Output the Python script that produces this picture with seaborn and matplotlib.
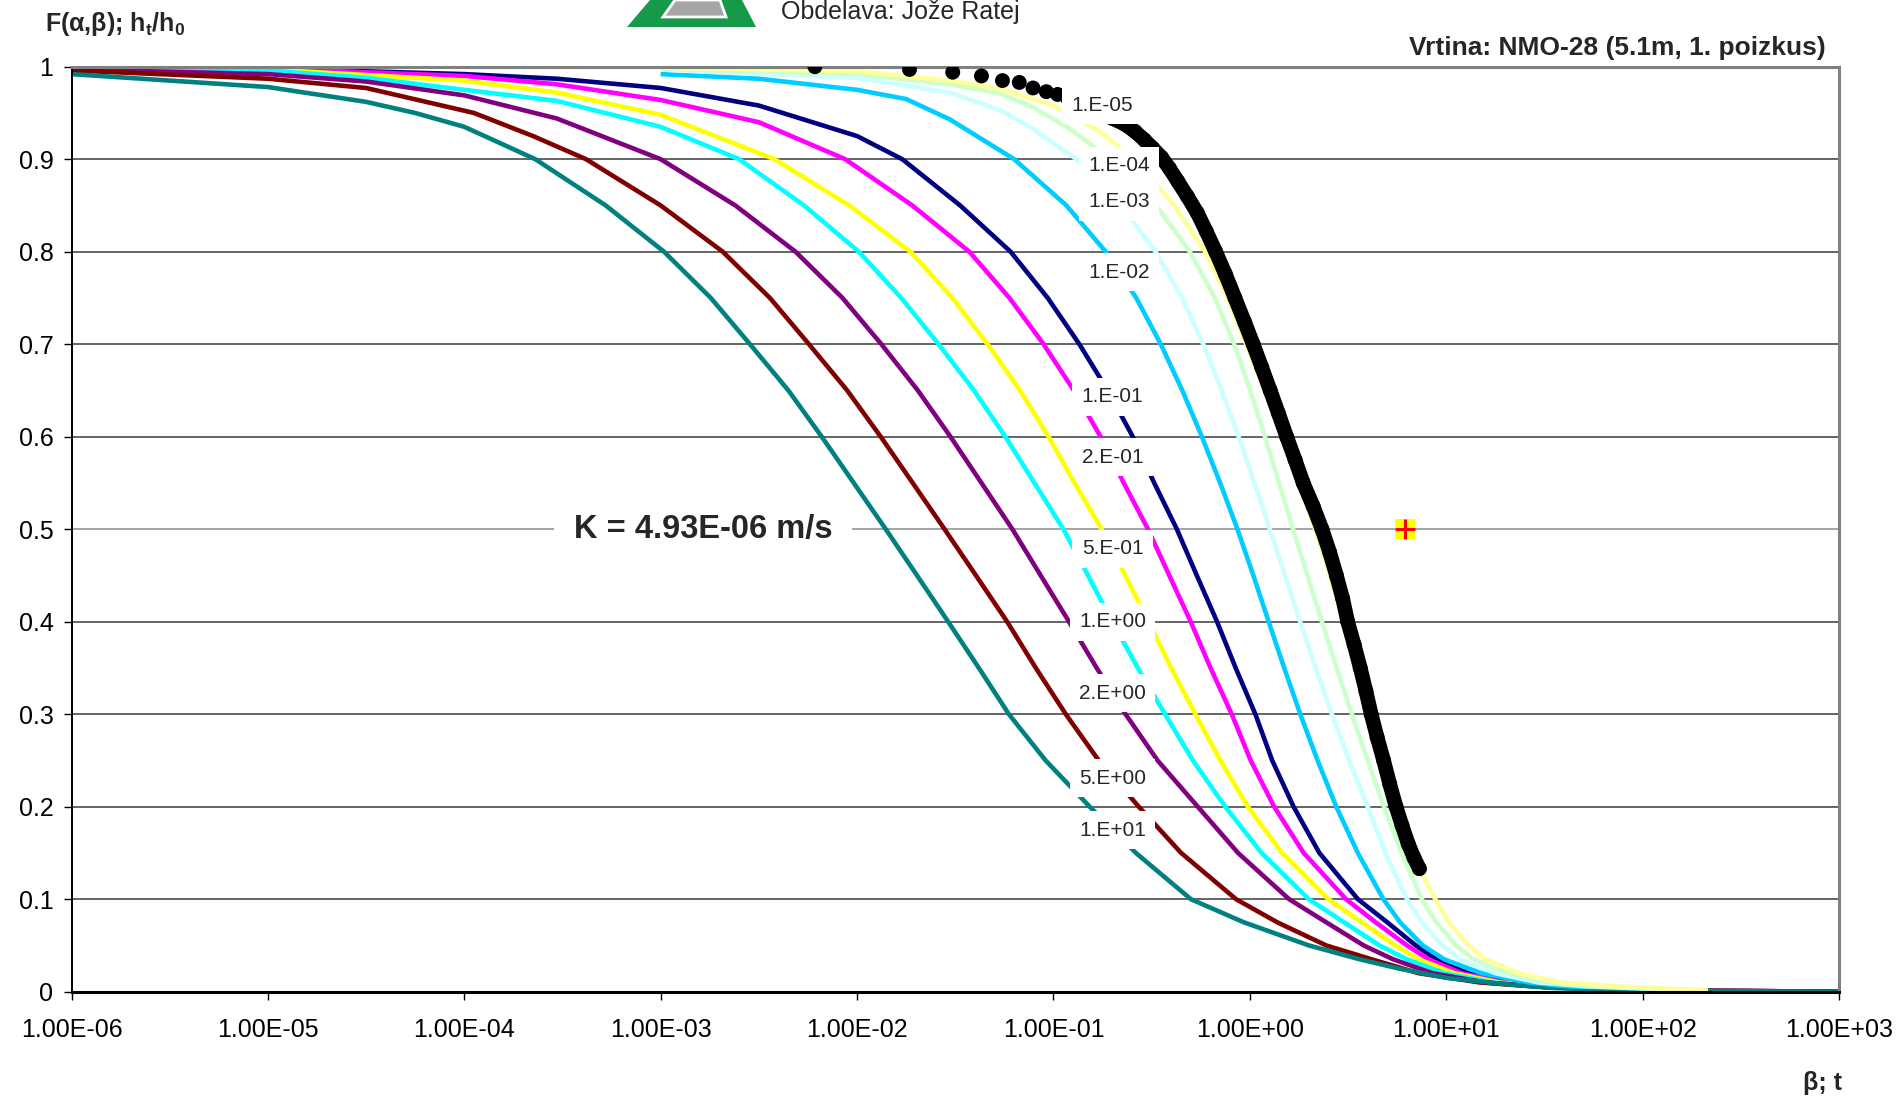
import matplotlib
matplotlib.use("Agg")
import numpy as np
import pandas as pd
import matplotlib.pyplot as plt
from matplotlib.patches import Polygon
import seaborn as sns

sns.set_theme(style="white")
plt.rcParams['font.family'] = ['Liberation Sans', 'DejaVu Sans']
plt.rcParams['mathtext.fontset'] = 'custom'
plt.rcParams['mathtext.rm'] = 'Liberation Sans'
plt.rcParams['mathtext.bf'] = 'Liberation Sans:bold'

# type curves F(alpha, beta) (beta, F)
X_1E01 = [1e-6, 1e-5, 3.16e-5, 5.62e-5, 1e-4, 2.30e-4, 5.25e-4, 1.04e-3, 1.80e-3, 2.85e-3, 4.47e-3, 6.61e-3,
          9.62e-3, 0.0140, 0.0202, 0.0291, 0.0417, 0.0593, 0.0912, 0.153, 0.263, 0.501, 0.933, 2.0, 3.63,
          5.75, 10, 20, 35.5, 100, 1000]
Y_1E01 = [0.992, 0.978, 0.962, 0.95, 0.935, 0.90, 0.85, 0.80, 0.75, 0.70, 0.65, 0.60,
          0.55, 0.50, 0.45, 0.40, 0.35, 0.30, 0.25, 0.20, 0.15, 0.10, 0.075, 0.05, 0.035,
          0.025, 0.015, 0.008, 0.004, 0.001, 0.0]
X_5E00 = [1e-6, 1e-5, 3.16e-5, 1.12e-4, 2.24e-4, 4.17e-4, 1e-3, 2.07e-3, 3.60e-3, 5.69e-3, 8.91e-3, 0.0132,
          0.0192, 0.0279, 0.0403, 0.0581, 0.0813, 0.1156, 0.170, 0.272, 0.447, 0.851, 1.38, 2.45, 4.17,
          7.24, 14.8, 31.6, 100, 1000]
Y_5E00 = [0.996, 0.987, 0.977, 0.95, 0.925, 0.90, 0.85, 0.80, 0.75, 0.70, 0.65, 0.60,
          0.55, 0.50, 0.45, 0.40, 0.35, 0.30, 0.25, 0.20, 0.15, 0.10, 0.075, 0.05, 0.035,
          0.02, 0.01, 0.005, 0.0015, 0.0]
X_2E00 = [1e-6, 1e-5, 3.16e-5, 1e-4, 2.96e-4, 1.0e-3, 2.40e-3, 4.86e-3, 8.43e-3, 0.0133, 0.0204, 0.0299,
          0.0430, 0.0618, 0.0861, 0.120, 0.166, 0.233, 0.339, 0.543, 0.871, 1.585, 2.45, 3.80, 5.37,
          8.51, 15.8, 31.6, 100, 1000]
Y_2E00 = [0.997, 0.992, 0.984, 0.969, 0.944, 0.90, 0.85, 0.80, 0.75, 0.70, 0.65, 0.60,
          0.55, 0.50, 0.45, 0.40, 0.35, 0.30, 0.25, 0.20, 0.15, 0.10, 0.075, 0.05, 0.035,
          0.02, 0.01, 0.005, 0.0015, 0.0]
X_1E00 = [1e-6, 1e-5, 3.16e-5, 1e-4, 2.96e-4, 1e-3, 2.51e-3, 5.37e-3, 0.0102, 0.0168, 0.0260, 0.0394,
          0.0569, 0.0800, 0.1124, 0.150, 0.199, 0.269, 0.370, 0.513, 0.750, 1.148, 1.995, 3.02, 4.57,
          6.31, 9.77, 17.4, 31.6, 100, 1000]
Y_1E00 = [0.998, 0.996, 0.988, 0.975, 0.963, 0.935, 0.90, 0.85, 0.80, 0.75, 0.70, 0.65,
          0.60, 0.55, 0.50, 0.45, 0.40, 0.35, 0.30, 0.25, 0.20, 0.15, 0.10, 0.075, 0.05,
          0.035, 0.02, 0.01, 0.006, 0.0015, 0.0]
X_5E01 = [1e-6, 1e-5, 3.16e-5, 1e-4, 2.96e-4, 1e-3, 3.80e-3, 9.12e-3, 0.0187, 0.0306, 0.0462, 0.0676,
          0.0944, 0.128, 0.176, 0.232, 0.305, 0.398, 0.528, 0.708, 0.977, 1.46, 2.51, 3.72, 5.50,
          7.24, 11.0, 18.6, 31.6, 100, 1000]
Y_5E01 = [0.999, 0.997, 0.991, 0.985, 0.972, 0.948, 0.90, 0.85, 0.80, 0.75, 0.70, 0.65,
          0.60, 0.55, 0.50, 0.45, 0.40, 0.35, 0.30, 0.25, 0.20, 0.15, 0.10, 0.075, 0.05,
          0.035, 0.02, 0.01, 0.006, 0.0015, 0.0]
X_2E01 = [1e-6, 1e-5, 1e-4, 2.96e-4, 1e-3, 3.16e-3, 8.71e-3, 0.0191, 0.0373, 0.0597, 0.0891, 0.127,
          0.174, 0.228, 0.303, 0.389, 0.50, 0.631, 0.809, 1.01, 1.33, 1.88, 3.09, 4.37, 6.31,
          8.13, 12.0, 19.5, 31.6, 100, 1000]
Y_2E01 = [0.999, 0.998, 0.990, 0.981, 0.964, 0.94, 0.90, 0.85, 0.80, 0.75, 0.70, 0.65,
          0.60, 0.55, 0.50, 0.45, 0.40, 0.35, 0.30, 0.25, 0.20, 0.15, 0.10, 0.075, 0.05,
          0.035, 0.02, 0.01, 0.006, 0.0015, 0.0]
X_1E01m = [1e-6, 1e-5, 1e-4, 2.96e-4, 1e-3, 3.16e-3, 0.01, 0.0170, 0.0335, 0.0605, 0.0935, 0.1355,
           0.189, 0.2535, 0.326, 0.425, 0.537, 0.681, 0.847, 1.067, 1.30, 1.67, 2.26, 3.55, 5.01,
           7.0, 8.91, 12.9, 20.4, 31.6, 100, 1000]
Y_1E01m = [1.0, 0.998, 0.992, 0.987, 0.977, 0.958, 0.925, 0.90, 0.85, 0.80, 0.75, 0.70,
           0.65, 0.60, 0.55, 0.50, 0.45, 0.40, 0.35, 0.30, 0.25, 0.20, 0.15, 0.10, 0.075,
           0.05, 0.035, 0.02, 0.01, 0.006, 0.0015, 0.0]
X_1E02 = [1e-3, 3.16e-3, 0.01, 0.0178, 0.0297, 0.0631, 0.1164, 0.1845, 0.264, 0.352, 0.453, 0.570,
          0.706, 0.865, 1.042, 1.247, 1.496, 1.807, 2.213, 2.754, 3.548, 4.786, 5.82, 7.59, 9.77,
          15.1, 26.3, 39.8, 215]
Y_1E02 = [0.992, 0.987, 0.975, 0.965, 0.943, 0.90, 0.85, 0.80, 0.75, 0.70, 0.65, 0.60,
          0.55, 0.50, 0.45, 0.40, 0.35, 0.30, 0.25, 0.20, 0.15, 0.10, 0.075, 0.05, 0.035,
          0.02, 0.01, 0.006, 0.001]
X_1E03 = [1e-3, 0.01, 0.0297, 0.0535, 0.0759, 0.131, 0.221, 0.331, 0.452, 0.579, 0.719, 0.877,
          1.057, 1.265, 1.51, 1.803, 2.163, 2.618, 3.206, 3.981, 4.898, 6.31, 7.50, 9.55, 11.75,
          17.8, 29.5, 50.1, 215]
Y_1E03 = [0.997, 0.988, 0.972, 0.953, 0.935, 0.90, 0.85, 0.80, 0.75, 0.70, 0.65, 0.60,
          0.55, 0.50, 0.45, 0.40, 0.35, 0.30, 0.25, 0.20, 0.15, 0.10, 0.075, 0.05, 0.035,
          0.02, 0.01, 0.006, 0.001]
X_1E04 = [1e-3, 0.01, 0.0297, 0.0535, 0.079, 0.117, 0.196, 0.333, 0.495, 0.664, 0.832, 1.005,
          1.194, 1.409, 1.66, 1.963, 2.328, 2.767, 3.311, 3.981, 4.819, 5.93, 7.50, 8.91, 11.2,
          13.8, 20.4, 33.9, 60.3, 215]
Y_1E04 = [0.998, 0.992, 0.981, 0.971, 0.956, 0.935, 0.90, 0.85, 0.80, 0.75, 0.70, 0.65,
          0.60, 0.55, 0.50, 0.45, 0.40, 0.35, 0.30, 0.25, 0.20, 0.15, 0.10, 0.075, 0.05,
          0.035, 0.02, 0.01, 0.006, 0.001]
X_1E05 = [1e-3, 0.01, 0.0297, 0.0535, 0.1, 0.1726, 0.257, 0.412, 0.592, 0.771, 0.959, 1.189,
          1.462, 1.78, 2.15, 2.56, 3.0, 3.45, 3.95, 4.6, 5.35, 6.6, 8.8, 10.3, 13.0,
          15.85, 23.4, 38.0, 69.2, 215]
Y_1E05 = [0.999, 0.995, 0.985, 0.976, 0.958, 0.93, 0.90, 0.85, 0.80, 0.75, 0.70, 0.65,
          0.60, 0.55, 0.50, 0.45, 0.40, 0.35, 0.30, 0.25, 0.20, 0.15, 0.10, 0.075, 0.05,
          0.035, 0.02, 0.01, 0.006, 0.001]

# measured slug test data (scaled time, h_t/h_0)
DOT_X = [6.1e-3, 0.0185, 0.0307, 0.043, 0.055, 0.067, 0.0787, 0.092, 0.105, 0.118, 0.135, 0.155, 0.18]
DOT_Y = [1.0, 0.997, 0.994, 0.990, 0.985, 0.983, 0.977, 0.973, 0.970, 0.966, 0.961, 0.955, 0.949]
BAND_X = [0.18, 0.2, 0.23, 0.26, 0.29, 0.32, 0.355, 0.39, 0.43, 0.48, 0.54, 0.60, 0.67, 0.75, 0.84, 0.94,
          1.04, 1.15, 1.27, 1.40, 1.54, 1.70, 1.87, 2.1, 2.33, 2.55, 2.76, 2.97, 3.15, 3.4, 3.65, 3.9,
          4.15, 4.45, 4.8, 5.15, 5.55, 5.95, 6.4, 6.85, 7.3]
BAND_Y = [0.949, 0.944, 0.938, 0.930, 0.921, 0.912, 0.902, 0.890, 0.876, 0.860, 0.842, 0.822, 0.800, 0.776,
          0.750, 0.724, 0.700, 0.675, 0.650, 0.625, 0.600, 0.575, 0.550, 0.525, 0.500, 0.475, 0.450, 0.425,
          0.400, 0.375, 0.350, 0.325, 0.300, 0.275, 0.250, 0.225, 0.200, 0.180, 0.160, 0.145, 0.133]
MATCH_X = [6.15]
MATCH_Y = [0.5]

CURVE_LABELS = ['1.E-05', '1.E-04', '1.E-03', '1.E-02', '1.E-01', '2.E-01', '5.E-01',
                '1.E+00', '2.E+00', '5.E+00', '1.E+01']
CURVE_COLORS = ['#FFFF99', '#CCFFCC', '#CCFFFF', '#00CCFF', '#000080', '#FF00FF', '#FFFF00',
                '#00FFFF', '#800080', '#800000', '#008080']
X_TICKS = [1e-6, 1e-5, 1e-4, 1e-3, 1e-2, 1e-1, 1e0, 1e1, 1e2, 1e3]
X_TICK_LABELS = ['1.00E-06', '1.00E-05', '1.00E-04', '1.00E-03', '1.00E-02', '1.00E-01',
                 '1.00E+00', '1.00E+01', '1.00E+02', '1.00E+03']
Y_TICKS = [0, 0.1, 0.2, 0.3, 0.4, 0.5, 0.6, 0.7, 0.8, 0.9, 1.0]
Y_TICK_LABELS = ['0', '0.1', '0.2', '0.3', '0.4', '0.5', '0.6', '0.7', '0.8', '0.9', '1']

# where the curve names sit on the chart
LABEL_X = [0.177, 0.215, 0.215, 0.215, 0.20, 0.20, 0.20, 0.20, 0.20, 0.20, 0.20]
LABEL_Y = [0.958, 0.893, 0.854, 0.778, 0.643, 0.578, 0.479, 0.400, 0.3226, 0.2307, 0.1748]

curve_data = {
    '1.E-05': (X_1E05, Y_1E05), '1.E-04': (X_1E04, Y_1E04), '1.E-03': (X_1E03, Y_1E03),
    '1.E-02': (X_1E02, Y_1E02), '1.E-01': (X_1E01m, Y_1E01m), '2.E-01': (X_2E01, Y_2E01),
    '5.E-01': (X_5E01, Y_5E01), '1.E+00': (X_1E00, Y_1E00), '2.E+00': (X_2E00, Y_2E00),
    '5.E+00': (X_5E00, Y_5E00), '1.E+01': (X_1E01, Y_1E01),
}
df = pd.concat([pd.DataFrame({'beta': x, 'F': y, 'alpha': lab}) for lab, (x, y) in curve_data.items()],
               ignore_index=True)
palette = dict(zip(CURVE_LABELS, CURVE_COLORS))
draw_order = ['1.E-01', '2.E-01', '5.E-01', '1.E+00', '2.E+00', '5.E+00', '1.E+01',
              '1.E-02', '1.E-03', '1.E-04', '1.E-05']

W, H = 1901, 1101
fig = plt.figure(figsize=(W / 100, H / 100), dpi=100)
ax = fig.add_axes([71.5 / W, 1 - 991.7 / H, (1839 - 71.5) / W, (991.7 - 66.7) / H])

sns.lineplot(data=df, x='beta', y='F', hue='alpha', hue_order=draw_order, palette=palette,
             estimator=None, sort=False, linewidth=3.3, legend=False, ax=ax,
             solid_joinstyle='round', solid_capstyle='butt')

# measured data
sns.lineplot(x=BAND_X, y=BAND_Y, color='black', linewidth=10.5, sort=False, estimator=None, ax=ax,
             solid_capstyle='round', solid_joinstyle='round', zorder=4)
sns.scatterplot(x=DOT_X, y=DOT_Y, color='black', s=115, edgecolor='none', zorder=4, ax=ax)
sns.scatterplot(x=BAND_X, y=BAND_Y, color='black', s=115, edgecolor='none', zorder=4, ax=ax)

# match point
ax.scatter(MATCH_X, MATCH_Y, marker='s', s=200, color='#FFFF00', edgecolor='none', zorder=5)
ax.scatter(MATCH_X, MATCH_Y, marker='+', s=200, color='red', linewidths=2.2, zorder=6)

ax.set_xscale('log')
ax.set_xlim(1e-6, 1e3)
ax.set_ylim(0, 1)
ax.set_xticks(X_TICKS)
ax.set_xticklabels(X_TICK_LABELS)
ax.minorticks_off()
ax.set_yticks(Y_TICKS)
ax.set_yticklabels(Y_TICK_LABELS)
ax.set_xlabel('')
ax.set_ylabel('')
ax.tick_params(axis='x', direction='out', length=6, width=1, colors='black', pad=13, labelsize=18)
ax.tick_params(axis='y', direction='out', length=6, width=1, colors='black', pad=7, labelsize=18)
ax.tick_params(bottom=True, left=True)

ax.yaxis.grid(True, color='#3a3a3a', linewidth=1.1)
ax.xaxis.grid(False)
ax.set_axisbelow(True)
ax.get_ygridlines()[5].set_color('#8c8c8c')
for side in ['top', 'right']:
    ax.spines[side].set_color('#808080')
    ax.spines[side].set_linewidth(2.2)
ax.spines['left'].set_color('black')
ax.spines['left'].set_linewidth(1.4)
ax.spines['bottom'].set_color('black')
ax.spines['bottom'].set_linewidth(2.2)

# curve names
for lab, lx, ly in zip(CURVE_LABELS, LABEL_X, LABEL_Y):
    ax.text(lx, ly, lab, fontsize=15, ha='center', va='center', zorder=7,
            bbox=dict(boxstyle='square,pad=0.45', facecolor='white', edgecolor='none'))

ax.text(1.64e-3, 0.5, 'K = 4.93E-06 m/s', fontsize=23.5, fontweight='bold', ha='center', va='center', zorder=7,
        bbox=dict(boxstyle='square,pad=0.6', facecolor='white', edgecolor='none'))

# header texts
fig.text(45 / W, 1 - 24 / H, r'F(α,β); h$_\mathbf{t}$/h$_\mathbf{0}$', fontsize=18, fontweight='bold',
         ha='left', va='center')
fig.text(1826 / W, 1 - 48 / H, 'Vrtina: NMO-28 (5.1m, 1. poizkus)', fontsize=19, fontweight='bold',
         ha='right', va='center')
fig.text(781 / W, 1 - 19 / H, 'Obdelava: Jože Ratej', fontsize=18, ha='left', va='baseline')
fig.text(1822 / W, 1 - 1083 / H, 'β; t', fontsize=18, fontweight='bold', ha='center', va='center')

# logo
green = Polygon([(627 / W, 1 - 27 / H), (756 / W, 1 - 27 / H), (742 / W, 1), (650 / W, 1)],
                closed=True, transform=fig.transFigure, facecolor='#17994a', edgecolor='none')
grey = Polygon([(663 / W, 1 - 17 / H), (726 / W, 1 - 17 / H), (720 / W, 1), (675 / W, 1)],
               closed=True, transform=fig.transFigure, facecolor='#a6a6a6', edgecolor='white', linewidth=2)
fig.patches.extend([green, grey])

fig.savefig('out.png', dpi=100, facecolor='white')
